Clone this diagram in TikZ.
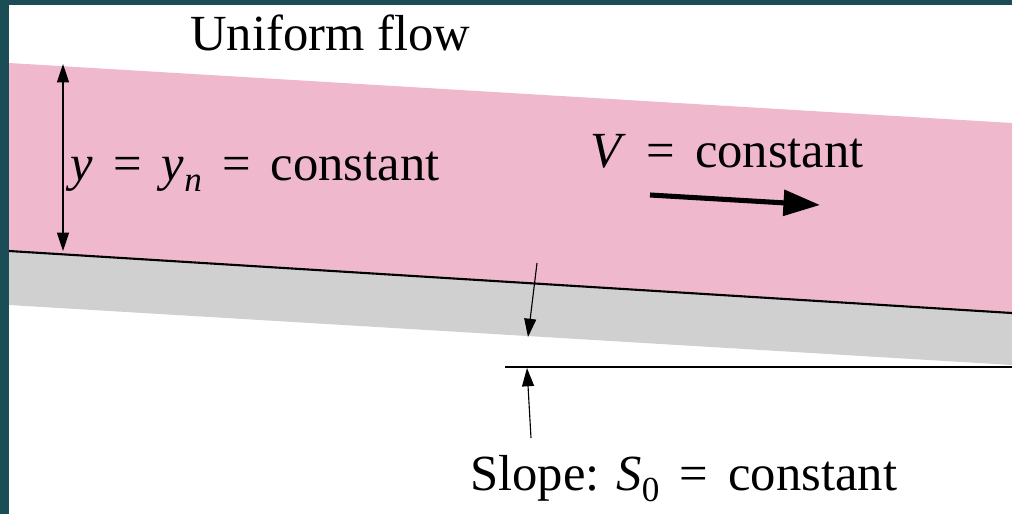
\documentclass[tikz,border=0pt]{standalone}
\usepackage{fontspec}
\setmainfont{Liberation Serif}
\usepackage{tikz}
\usetikzlibrary{arrows.meta, calc, positioning}
\usepackage{xcolor}
\definecolor{slide}{RGB}{27,77,86}
\definecolor{water}{RGB}{239,184,204}
\definecolor{bedgray}{RGB}{208,208,208}
\newcommand{\lowsub}[1]{\raisebox{-0.22em}{\fontsize{25}{28}\selectfont #1}}

\begin{document}
\begin{tikzpicture}[x=0.025cm, y=-0.025cm,
    lbl/.style={font=\fontsize{36}{42}\selectfont, anchor=base west, inner sep=0pt},
    dim/.style={line width=0.9pt, {Triangle[length=13pt,width=8.5pt]}-{Triangle[length=13pt,width=8.5pt]}},
    pointer/.style={line width=0.8pt, -{Triangle[length=13pt,width=8.5pt]}}]
    % 边框
    \useasboundingbox (0,0) rectangle (1012,514);
    \fill[white] (0,0) rectangle (1012,514);
    \fill[slide] (0,0) rectangle (9,514);
    \fill[slide] (0,0) rectangle (1012,5);

    % 水流与渠底
    \fill[water] (9,63) -- (1012,123) -- (1012,313) -- (9,251) -- cycle;
    \fill[bedgray] (9,251) -- (1012,313) -- (1012,365) -- (9,305) -- cycle;
    \draw[line width=1.5pt] (9,251) -- (1012,313);
    \draw[line width=1pt] (505,367) -- (1012,367);

    % 文字
    \node[lbl] (title) at (190,50) {Uniform flow};
    \node[lbl] (depth) at (70,180) {\textit{y}\hspace{0.4em}=\hspace{0.4em}\textit{y}\lowsub{\textit{n}}\hspace{0.4em}=\hspace{0.4em}constant};
    \node[lbl] (speed) at (590,167) {\textit{V}\hspace{0.4em}=\hspace{0.4em}constant};
    \node[lbl] (slope) at (470,490) {Slope: \textit{S}\lowsub{0}\hspace{0.4em}=\hspace{0.4em}constant};

    % 水深标注
    \coordinate (surf) at (63,64);
    \coordinate (bed) at (63,251);
    \draw[dim] (surf) -- (bed);

    % 流速箭头
    \coordinate (vtail) at (650,195);
    \coordinate (vhead) at (820,205);
    \draw[line width=3.6pt, -{Triangle[length=26pt,width=18pt]}] (vtail) -- (vhead);

    % 坡度标注
    \coordinate (s1) at (537,263);
    \coordinate (s2) at (528,337);
    \coordinate (s3) at (531,438);
    \coordinate (s4) at (527,368);
    \draw[pointer] (s1) -- (s2);
    \draw[pointer] (s3) -- (s4);
\end{tikzpicture}
\end{document}
